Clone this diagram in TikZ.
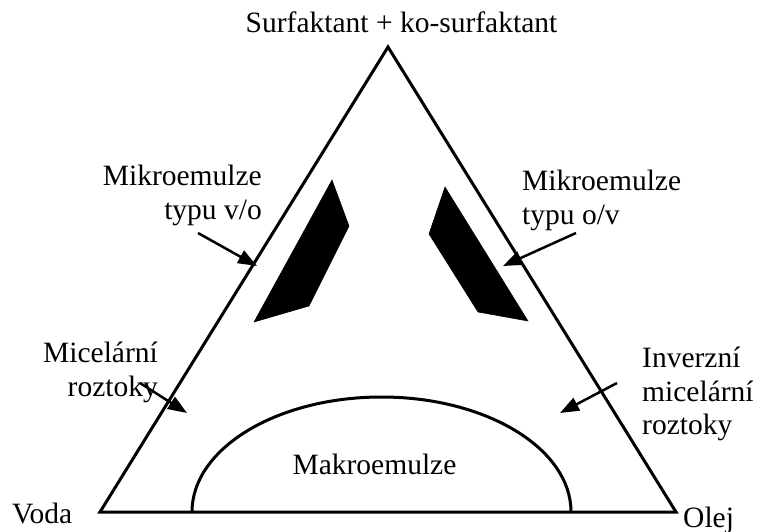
\documentclass[tikz,border=0pt]{standalone}
\usepackage{fontspec}
\setmainfont{Liberation Serif}
\usetikzlibrary{arrows.meta}
\tikzset{
  lbl/.style={inner sep=0pt, font=\fontsize{29.5}{33.5}\selectfont},
  edge/.style={line width=3pt, line join=miter},
  pointer/.style={line width=2.5pt, -{Triangle[length=19pt,width=14pt]}},
  region/.style={fill=black, draw=black, line width=0.5pt}
}
\begin{document}
\begin{tikzpicture}[x=1pt,y=-1pt]
\useasboundingbox (0,0) rectangle (757,532);
% vertices
\coordinate (top) at (388,47);
\coordinate (voda) at (100,512);
\coordinate (olej) at (676,512);
% triangle
\draw[edge] (voda) -- (top) -- (olej) -- cycle;
% macroemulsion half ellipse
\coordinate (ell) at (192,512);
\draw[line width=3pt] (ell) arc[start angle=180, end angle=360, x radius=189.5, y radius=115];
% black microemulsion regions
\fill[region] (332,180) -- (349,226) -- (309,306) -- (254,322) -- cycle;
\fill[region] (445,187) -- (429,234) -- (478,312) -- (528,321) -- cycle;
% labels
\node[lbl, anchor=base] (title) at (401.5,33) {Surfaktant + ko-surfaktant};
\node[lbl, anchor=north east, align=right] (mvo) at (262,165) {Mikroemulze\\typu v/o};
\node[lbl, anchor=north west, align=left] (mov) at (522,170) {Mikroemulze\\typu o/v};
\node[lbl, anchor=north east, align=right] (mic) at (158,342) {Micelární\\roztoky};
\node[lbl, anchor=north west, align=left] (inv) at (642,347) {Inverzní\\micelární\\roztoky};
\node[lbl, anchor=base] (makro) at (374.5,474) {Makroemulze};
\node[lbl, anchor=base west] (lvoda) at (12,523) {Voda};
\node[lbl, anchor=base west] (lolej) at (683,527) {Olej};
% pointer arrows
\coordinate (a1s) at (198,233); \coordinate (a1t) at (257,266);
\coordinate (a2s) at (576,233); \coordinate (a2t) at (503,266);
\coordinate (a3s) at (140,383); \coordinate (a3t) at (187,413);
\coordinate (a4s) at (617,383); \coordinate (a4t) at (560,413);
\draw[pointer] (a1s) -- (a1t);
\draw[pointer] (a2s) -- (a2t);
\draw[pointer] (a3s) -- (a3t);
\draw[pointer] (a4s) -- (a4t);
\end{tikzpicture}
\end{document}
